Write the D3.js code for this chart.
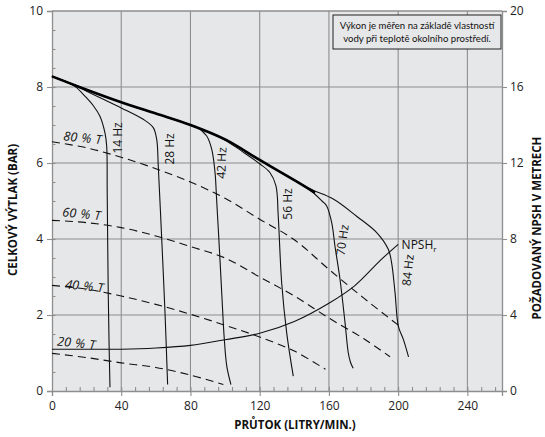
<!DOCTYPE html>
<html>
<head>
<meta charset="utf-8">
<script src="https://cdn.jsdelivr.net/npm/d3@7/dist/d3.min.js"></script>
<style>
  html, body { margin: 0; padding: 0; background: #fff; }
  svg { display: block; font-family: "Open Sans", "Noto Sans", sans-serif; }
</style>
</head>
<body>
<svg id="chart" width="545" height="437"></svg>
<script>
// ---------- data ----------
const flowTicks = [0, 40, 80, 120, 160, 200, 240];
const headTicks = [0, 2, 4, 6, 8, 10];
const npshTicks = [0, 4, 8, 12, 16, 20];

const maxFlow = [0, 20, 40, 60, 80, 100, 120, 140, 152];
const maxHead = [8.28, 7.93, 7.6, 7.3, 7.0, 6.62, 6.08, 5.55, 5.22];

const hz14Flow = [0, 10, 14, 19, 24, 27.7, 30.6, 31.6, 31.9, 32.5, 33, 33.5];
const hz14Head = [8.28, 8.1, 7.99, 7.76, 7.5, 7.23, 6.79, 6.44, 5.21, 2.57, 1.2, 0.1];
const hz28Flow = [0, 14, 20, 30, 40, 52.7, 58.5, 60.5, 61.4, 63.4, 65.3, 66.8];
const hz28Head = [8.28, 8.02, 7.89, 7.67, 7.45, 7.15, 6.93, 6.62, 5.92, 3.99, 2.05, 0.17];
const hz42Flow = [0, 20, 40, 60, 80, 83.6, 89.4, 92.3, 94.2, 95.1, 97, 98.5, 99.5, 101, 103.4];
const hz42Head = [8.28, 7.93, 7.6, 7.3, 7.0, 6.95, 6.71, 6.36, 5.75, 5.05, 3.5, 2.2, 1.4, 0.65, 0.17];
const hz56Flow = [0, 20, 40, 60, 80, 100, 110, 120, 125.9, 129.4, 130.7, 132.7, 135.6, 139.4];
const hz56Head = [8.28, 7.93, 7.6, 7.3, 7.0, 6.6, 6.3, 5.98, 5.75, 5.4, 4.61, 2.85, 1.53, 0.39];
const hz70Flow = [0, 20, 40, 60, 80, 100, 120, 140, 150, 156, 158.7, 161.6, 163.5, 166.4, 169.3, 171.2, 172.5, 174];
const hz70Head = [8.28, 7.93, 7.6, 7.3, 7.0, 6.62, 6.08, 5.55, 5.25, 5.0, 4.87, 4.43, 3.81, 2.94, 1.8, 1.0, 0.75, 0.6];
const hz84Flow = [0, 20, 40, 60, 80, 100, 120, 140, 150, 162.5, 176, 187.6, 194.3, 196.2, 198.2, 200.1, 203, 206];
const hz84Head = [8.28, 7.93, 7.6, 7.3, 7.0, 6.62, 6.08, 5.55, 5.3, 5.05, 4.6, 4.17, 3.73, 3.38, 2.59, 1.71, 1.36, 0.9];
const hzLabels = ["14 Hz", "28 Hz", "42 Hz", "56 Hz", "70 Hz", "84 Hz"];

const eff80Flow = [0, 20, 40, 60, 80, 100, 120, 140, 160, 180, 201];
const eff80Head = [6.56, 6.4, 6.15, 5.85, 5.5, 5.07, 4.52, 3.98, 3.2, 2.45, 1.7];
const eff60Flow = [0, 20, 40, 60, 80, 100, 120, 140, 160, 180, 195.3];
const eff60Head = [4.49, 4.43, 4.3, 4.08, 3.8, 3.5, 3.0, 2.5, 1.92, 1.38, 0.9];
const eff40Flow = [0, 20, 40, 60, 80, 100, 120, 140, 158];
const eff40Head = [2.78, 2.68, 2.5, 2.28, 2.02, 1.73, 1.42, 1.05, 0.57];
const eff20Flow = [0, 20, 40, 60, 80, 99];
const eff20Head = [0.99, 0.88, 0.74, 0.62, 0.42, 0.17];
const effLabels = ["80 % T", "60 % T", "40 % T", "20 % T"];

const npshFlow = [0, 20, 40, 60, 80, 100, 120, 140, 160, 175, 190, 200];
const npshMeters = [2.2, 2.2, 2.2, 2.26, 2.4, 2.7, 3.04, 3.66, 4.62, 5.55, 6.9, 7.72];

const noteLines = ["Výkon je měřen na základě vlastností", "vody při teplotě okolního prostředí."];
const xTitle = "PRŮTOK (LITRY/MIN.)";
const yTitle = "CELKOVÝ VÝTLAK (BAR)";
const y2Title = "POŽADOVANÝ NPSH V METRECH";

// ---------- scales ----------
const L = 52, R = 502, T = 11, B = 391;
const x = d3.scaleLinear().domain([0, 260]).range([L, R]);
const y = d3.scaleLinear().domain([0, 10]).range([B, T]);
const y2 = d3.scaleLinear().domain([0, 20]).range([B, T]);

const svg = d3.select("#chart");
const gridColor = "#8e8e8e";
const axisColor = "#8e8e8e";

// plot background
svg.append("rect").attr("x", L).attr("y", T).attr("width", R - L).attr("height", B - T)
  .attr("fill", "#e6e7e8");

// gridlines
const grid = svg.append("g").attr("stroke", gridColor).attr("stroke-width", 1.1);
flowTicks.filter(d => d > 0).forEach(d => {
  grid.append("line").attr("x1", x(d)).attr("x2", x(d)).attr("y1", T).attr("y2", B);
});
headTicks.filter(d => d > 0).forEach(d => {
  grid.append("line").attr("x1", L).attr("x2", R).attr("y1", y(d)).attr("y2", y(d));
});

// note box
const boxL = 333, boxR = 501, boxT = 15, boxB = 49;
svg.append("rect").attr("x", boxL).attr("y", boxT).attr("width", boxR - boxL).attr("height", boxB - boxT)
  .attr("fill", "#e6e7e8").attr("stroke", "#222").attr("stroke-width", 1);
noteLines.forEach((t, i) => {
  svg.append("text").attr("x", (boxL + boxR) / 2).attr("y", 28.5 + i * 13.5)
    .attr("text-anchor", "middle").attr("font-size", 9.6).attr("fill", "#111")
    .attr("font-family", "Lato, 'Open Sans', sans-serif")
    .text(t);
});

// axes
const axB = svg.append("g").attr("transform", `translate(0,${B})`)
  .call(d3.axisBottom(x).tickValues(flowTicks).tickSize(5).tickPadding(5).tickFormat(d3.format("d")));
const axBm = svg.append("g").attr("transform", `translate(0,${B})`)
  .call(d3.axisBottom(x).tickValues(d3.range(8, 260, 8)).tickSize(-4).tickFormat(""));
const axL = svg.append("g").attr("transform", `translate(${L},0)`)
  .call(d3.axisLeft(y).tickValues(headTicks).tickSize(5).tickPadding(4).tickFormat(d3.format("d")));
const axLm = svg.append("g").attr("transform", `translate(${L},0)`)
  .call(d3.axisLeft(y).tickValues(d3.range(0.5, 10, 0.5)).tickSize(-3.5).tickFormat(""));
const axR = svg.append("g").attr("transform", `translate(${R},0)`)
  .call(d3.axisRight(y2).tickValues(npshTicks).tickSize(5).tickPadding(3).tickFormat(d3.format("d")));

[axB, axBm, axL, axLm, axR].forEach(g => {
  g.select(".domain").attr("stroke", axisColor).attr("stroke-width", 1.3);
  g.selectAll(".tick line").attr("stroke", axisColor).attr("stroke-width", 1.1);
  g.selectAll(".tick text").attr("font-size", 12).attr("fill", "#222")
    .attr("font-family", "'Open Sans', sans-serif");
});
axBm.select(".domain").remove();
axLm.select(".domain").remove();
// top border
svg.append("line").attr("x1", L).attr("x2", R).attr("y1", T).attr("y2", T)
  .attr("stroke", gridColor).attr("stroke-width", 1.1);

// curves
const line = (fx, fy) => d3.line()
  .x((d, i) => x(fx[i])).y((d, i) => y(fy[i]))
  .curve(d3.curveCatmullRom.alpha(0.5))(fx);

const effSets = [[eff80Flow, eff80Head], [eff60Flow, eff60Head], [eff40Flow, eff40Head], [eff20Flow, eff20Head]];
effSets.forEach(([fx, fy]) => {
  svg.append("path").attr("d", line(fx, fy)).attr("fill", "none")
    .attr("stroke", "#111").attr("stroke-width", 1.1).attr("stroke-dasharray", "8,5");
});

const hzSets = [[hz14Flow, hz14Head], [hz28Flow, hz28Head], [hz42Flow, hz42Head],
                [hz56Flow, hz56Head], [hz70Flow, hz70Head], [hz84Flow, hz84Head]];
hzSets.forEach(([fx, fy]) => {
  svg.append("path").attr("d", line(fx, fy)).attr("fill", "none")
    .attr("stroke", "#111").attr("stroke-width", 1.1);
});
svg.append("path").attr("d", line(maxFlow, maxHead)).attr("fill", "none")
  .attr("stroke", "#000").attr("stroke-width", 2.6);

// NPSH curve on right axis
svg.append("path").attr("d", d3.line()
    .x((d, i) => x(npshFlow[i])).y((d, i) => y2(npshMeters[i]))
    .curve(d3.curveCatmullRom.alpha(0.5))(npshFlow))
  .attr("fill", "none").attr("stroke", "#111").attr("stroke-width", 1.1);

// Hz labels
const hzPos = [[37.8, 6.66, -90], [68.2, 6.37, -90], [98, 6.0, -88], [136, 4.92, -90], [167.8, 3.97, -82], [205.7, 3.18, -84]];
hzLabels.forEach((t, i) => {
  const [fx, hy, rot] = hzPos[i];
  svg.append("text").attr("transform", `translate(${x(fx)},${y(hy)}) rotate(${rot})`)
    .attr("text-anchor", "middle").attr("dy", "0.35em").attr("font-size", 12).attr("fill", "#111")
    .text(t);
});

// efficiency labels
const effPos = [[6.4, 6.6], [5.8, 4.6], [7.5, 2.7], [2.8, 1.2]];
effLabels.forEach((t, i) => {
  const [fx, hy] = effPos[i];
  svg.append("text").attr("transform", `translate(${x(fx)},${y(hy)}) rotate(6)`)
    .attr("font-size", 12.5).attr("font-style", "italic").attr("fill", "#111")
    .attr("word-spacing", "1px")
    .text(t);
});

// NPSH label
const npl = svg.append("text").attr("x", x(202)).attr("y", y2(7.72) + 4.5)
  .attr("font-size", 12).attr("fill", "#111");
npl.append("tspan").text("NPSH");
npl.append("tspan").attr("font-size", 8).attr("dy", 3).text("r");

// axis titles
svg.append("text").attr("x", 295).attr("y", 429).attr("text-anchor", "middle")
  .attr("font-size", 11.5).attr("font-weight", "bold").attr("fill", "#111").text(xTitle);
svg.append("text").attr("transform", "translate(17,210) rotate(-90)").attr("text-anchor", "middle")
  .attr("font-size", 11.5).attr("font-weight", "bold").attr("fill", "#111").text(yTitle);
svg.append("text").attr("transform", "translate(541,228) rotate(-90)").attr("text-anchor", "middle")
  .attr("font-size", 11.5).attr("font-weight", "bold").attr("fill", "#111").text(y2Title);
</script>
</body>
</html>
